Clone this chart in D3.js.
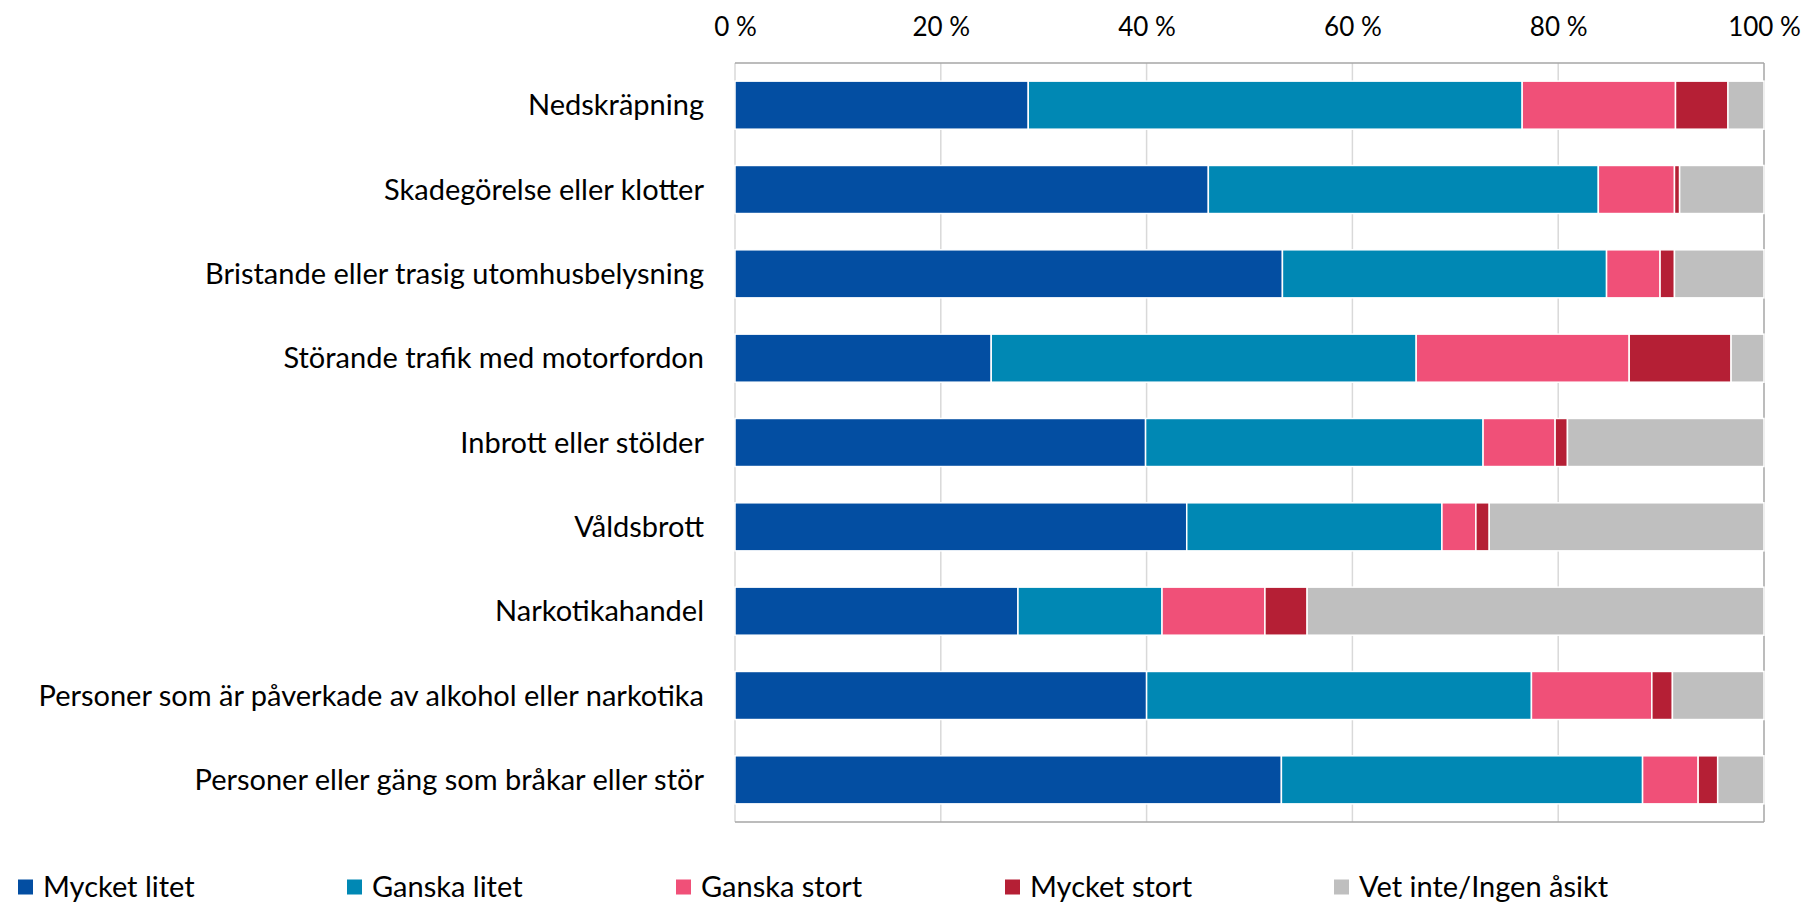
<!DOCTYPE html>
<html><head><meta charset="utf-8">
<script src="https://cdn.jsdelivr.net/npm/d3@7"></script>
<style>body{margin:0;background:#fff;} svg{display:block;} text{font-family:Lato, "Open Sans", sans-serif;fill:#000;}</style>
</head><body>
<svg id="c" width="1817" height="903"></svg>
<script>
const categories = ["Nedskräpning","Skadegörelse eller klotter","Bristande eller trasig utomhusbelysning","Störande trafik med motorfordon","Inbrott eller stölder","Våldsbrott","Narkotikahandel","Personer som är påverkade av alkohol eller narkotika","Personer eller gäng som bråkar eller stör"];
const seriesNames = ["Mycket litet","Ganska litet","Ganska stort","Mycket stort","Vet inte/Ingen åsikt"];
const mycketLitet = [28.5,46.0,53.2,24.9,39.9,43.9,27.5,40.0,53.1];
const ganskaLitet = [48.0,37.9,31.5,41.3,32.8,24.8,14.0,37.4,35.1];
const ganskaStort = [14.9,7.4,5.2,20.7,7.0,3.3,10.0,11.7,5.4];
const mycketStort = [5.1,0.5,1.4,9.9,1.2,1.3,4.1,2.0,1.9];
const vetInte = [3.5,8.2,8.7,3.2,19.1,26.7,44.4,8.9,4.5];
const tickValues = [0,20,40,60,80,100];
const colors = ["#034EA2","#0088B4","#F05078","#B51F35","#BFBFBF"];

const series = [mycketLitet,ganskaLitet,ganskaStort,mycketStort,vetInte];
const rows = categories.map((c,i)=>{const o={cat:c}; seriesNames.forEach((s,j)=>o[s]=series[j][i]); return o;});
const stacked = d3.stack().keys(seriesNames)(rows);

const svg = d3.select("#c");
const m = {left:735, right:1764, top:63, bottom:822};
const x = d3.scaleLinear().domain([0,100]).range([m.left,m.right]);
const y = d3.scaleBand().domain(categories).range([m.top,m.bottom]).paddingInner(0.43).paddingOuter(0.215);

// gridlines
svg.append("g").selectAll("line").data(tickValues.slice(1,-1)).join("line")
  .attr("x1",d=>x(d)).attr("x2",d=>x(d)).attr("y1",m.top).attr("y2",m.bottom)
  .attr("stroke","#D9D9D9").attr("stroke-width",1.5);
// frame
svg.append("line").attr("x1",m.left).attr("x2",m.left).attr("y1",m.top).attr("y2",m.bottom).attr("stroke","#D9D9D9").attr("stroke-width",1.5);
svg.append("line").attr("x1",m.right).attr("x2",m.right).attr("y1",m.top).attr("y2",m.bottom).attr("stroke","#A6A6A6").attr("stroke-width",1.5);
svg.append("line").attr("x1",m.left).attr("x2",m.right).attr("y1",m.top).attr("y2",m.top).attr("stroke","#A6A6A6").attr("stroke-width",1.5);
svg.append("line").attr("x1",m.left).attr("x2",m.right).attr("y1",m.bottom).attr("y2",m.bottom).attr("stroke","#A6A6A6").attr("stroke-width",1.5);

// bars
svg.append("g").selectAll("g").data(stacked).join("g").attr("fill",(d,i)=>colors[i])
  .selectAll("rect").data(d=>d).join("rect")
  .attr("x",d=>x(d[0])).attr("width",d=>x(d[1])-x(d[0]))
  .attr("y",d=>y(d.data.cat)).attr("height",y.bandwidth())
  .attr("stroke","#fff").attr("stroke-width",1.5);

// top axis
const ax = d3.axisTop(x).tickValues(tickValues).tickFormat(d=>d+" %").tickSize(0).tickPadding(0);
const gx = svg.append("g").attr("transform",`translate(0,36)`).call(ax);
gx.select(".domain").remove();
gx.selectAll("text").attr("font-size",26).attr("font-family","Lato");

// category labels
const ay = d3.axisLeft(y).tickSize(0).tickPadding(31);
const gy = svg.append("g").attr("transform",`translate(${m.left},0)`).call(ay);
gy.select(".domain").remove();
gy.selectAll("text").attr("font-size",29).attr("font-family","Lato").attr("dy","0.35em");

// legend
const lx = d3.scalePoint().domain(seriesNames).range([18,1334]);
const lg = svg.append("g").selectAll("g").data(seriesNames).join("g").attr("transform",d=>`translate(${lx(d)},887)`);
lg.append("rect").attr("x",0).attr("y",-7.5).attr("width",15).attr("height",15).attr("fill",(d,i)=>colors[i]);
lg.append("text").attr("x",25).attr("y",0).attr("dy","0.36em").attr("font-size",29).text(d=>d);
</script>
</body></html>
